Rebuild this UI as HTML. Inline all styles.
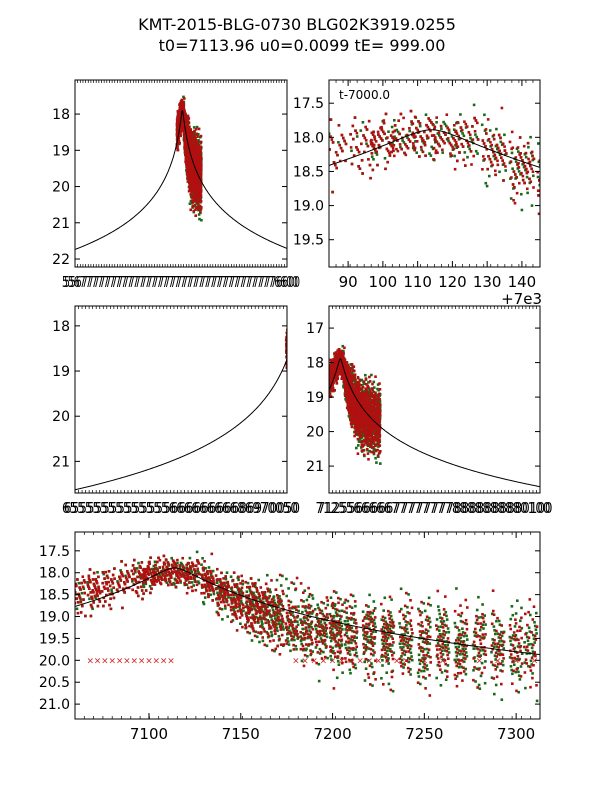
<!DOCTYPE html>
<html><head><meta charset="utf-8"><style>
body{margin:0;background:#fff;width:600px;height:800px;overflow:hidden}
svg text{font-family:"DejaVu Sans","Liberation Sans",sans-serif}
</style></head><body>
<svg id="s" width="600" height="800">
<text x="297" y="30" font-size="16" text-anchor="middle">KMT-2015-BLG-0730 BLG02K3919.0255</text>
<text x="302" y="51" font-size="16" text-anchor="middle">t0=7113.96 u0=0.0099 tE= 999.00</text>
</svg>
<script>
// cluster data (time HJD-2450000, mean mag, spread mag, count)
const clusterT   =[7062,7070,7078,7086,7094,7100,7106,7112,7118,7124,7132,7140,7148,7156,7163,7170,7178,7186,7194,7202,7210,7220,7230,7240,7250,7260,7270,7280,7290,7300,7308];
const clusterMag =[18.5,18.4,18.3,18.2,18.15,18.05,18.0,18.0,18.0,18.05,18.2,18.45,18.6,18.8,18.9,19.0,19.15,19.25,19.3,19.35,19.4,19.5,19.5,19.55,19.6,19.6,19.65,19.65,19.7,19.7,19.7];
const clusterSpread=[0.3,0.3,0.3,0.3,0.25,0.2,0.2,0.2,0.2,0.25,0.3,0.3,0.35,0.4,0.4,0.45,0.5,0.5,0.5,0.55,0.55,0.55,0.6,0.6,0.6,0.6,0.6,0.6,0.6,0.6,0.6];
const clusterCount=[50,70,60,50,60,80,60,70,60,60,80,90,100,110,100,90,70,80,70,90,70,80,80,70,70,70,70,60,60,60,50];
const badT=[7068,7072,7076,7080,7084,7088,7092,7096,7100,7104,7108,7112,7180,7185,7190,7195,7200,7205,7210,7215,7220,7225,7230,7235,7240,7250,7260,7270,7280,7290,7300,7310];
const badMag=[20.0];
const panels=[
 {name:'top-left',x:75,y:80,w:212,h:187,t0:6000,t1:8200,m0:17.06,m1:22.22,yt:[18,19,20,21,22],xl:'5567777777777777777777777777777777776600',xlx:181,minor:80},
 {name:'top-right',x:329,y:80,w:211,h:187,t0:7084.5,t1:7145.2,m0:17.16,m1:19.9,yt:[17.5,18.0,18.5,19.0,19.5],xt:[7090,7100,7110,7120,7130,7140],xtl:['90','100','110','120','130','140'],minor:30,inset:'t-7000.0',offset:'+7e3'},
 {name:'mid-left',x:75,y:306,w:212,h:187,t0:6100,t1:7062,m0:17.56,m1:21.7,yt:[18,19,20,21],xl:'6555555555555566666666686970050',xlx:181,minor:60},
 {name:'mid-right',x:329,y:306,w:211,h:187,t0:7058,t1:8100,m0:16.36,m1:21.78,yt:[17,18,19,20,21],xl:'7125566666777777778888888880100',xlx:434,minor:60},
 {name:'bottom',x:75,y:532,w:465,h:187,t0:7059.7,t1:7313,m0:17.07,m1:21.34,yt:[17.5,18.0,18.5,19.0,19.5,20.0,20.5,21.0],xt:[7100,7150,7200,7250,7300],xtl:['7100','7150','7200','7250','7300'],minor:50,bad:true}
];
function model(t){const dt=t-7113.96;return 17.75+2.73*Math.log10(1+Math.sqrt(dt*dt+25)/40);}
const S=document.getElementById('s'),NS='http://www.w3.org/2000/svg';
function el(tag,at,parent){const e=document.createElementNS(NS,tag);for(const k in at)e.setAttribute(k,at[k]);(parent||S).appendChild(e);return e;}
panels.forEach(p=>{
 const g=el('g',{});
 
 
 const X=t=>p.x+(t-p.t0)/(p.t1-p.t0)*p.w, Y=m=>p.y+(m-p.m0)/(p.m1-p.m0)*p.h;
 const cid='c'+p.name;
 const cp=el('clipPath',{id:cid},g);el('rect',{x:p.x,y:p.y,width:p.w,height:p.h},cp);
 const dg=el('g',{'clip-path':'url(#'+cid+')'},g);
 if(p.bad){badT.forEach(t=>{const px=X(t),py=Y(badMag[0]);
  const b=el('text',{x:px,y:py+3,'font-size':9,fill:'#d02020','text-anchor':'middle'},dg);b.textContent='×';
  
  });}
 ['#1a6a1a','#b01010'].forEach((col,ci)=>{
  let k=ci*7;
  clusterT.forEach((t,i)=>{
   const n=Math.round(clusterCount[i]*(ci?0.55:0.6));
   for(let j=0;j<n;j++){k++;
    const a=(k*0.6180339)%1,b=(k*0.7548777)%1,c=(k*0.5698403)%1,d=(k*0.4142135)%1;
    const tt=t+(a-0.5)*7;
    const mm=clusterMag[i]+(b+c+d-1.5)*clusterSpread[i]*1.6;
    const px=X(tt),py=Y(mm);
    if(px<p.x-2||px>p.x+p.w+2)continue;
    const r=el('rect',{x:(px-1.3).toFixed(1),y:(py-1.3).toFixed(1),width:2.6,height:2.6,fill:col},dg);
    
    
   }
  });
 });
 let d='';for(let i=0;i<=400;i++){const t=p.t0+(p.t1-p.t0)*i/400;d+=(i?'L':'M')+X(t).toFixed(1)+','+Y(model(t)).toFixed(1);}
 const ml=el('path',{d:d,fill:'none',stroke:'#000','stroke-width':1},dg);
 
 
 const fr=el('rect',{x:p.x,y:p.y,width:p.w,height:p.h,fill:'none',stroke:'#000','stroke-width':1},g);
 
 
 p.yt.forEach(v=>{const y=Y(v);
  el('line',{x1:p.x,x2:p.x+5,y1:y,y2:y,stroke:'#000'},g);el('line',{x1:p.x+p.w,x2:p.x+p.w-5,y1:y,y2:y,stroke:'#000'},g);
  const tx=el('text',{x:p.x-5,y:y+5,'font-size':14,'text-anchor':'end'},g);tx.textContent=(p.yt.some(q=>q%1)?v.toFixed(1):v);
  
  });
 for(let i=0;i<=p.minor;i++){const x=p.x+p.w*i/p.minor;
  el('line',{x1:x,x2:x,y1:p.y+p.h,y2:p.y+p.h-3,stroke:'#000','stroke-width':0.7},g);
  el('line',{x1:x,x2:x,y1:p.y,y2:p.y+3,stroke:'#000','stroke-width':0.7},g);}
 if(p.xt){p.xt.forEach((v,i)=>{const x=X(v);
  el('line',{x1:x,x2:x,y1:p.y+p.h,y2:p.y+p.h-6,stroke:'#000'},g);el('line',{x1:x,x2:x,y1:p.y,y2:p.y+6,stroke:'#000'},g);
  const tx=el('text',{x:x,y:p.y+p.h+20,'font-size':15,'text-anchor':'middle'},g);tx.textContent=p.xtl[i];
  
  });}
 else{[0,2].forEach(o=>{const tx=el('text',{x:p.xlx+o-1,y:p.y+p.h+20,'font-size':15,'text-anchor':'middle',textLength:p.w+24,lengthAdjust:'spacingAndGlyphs'},g);tx.textContent=p.xl;
  
  });}
 if(p.inset){const tx=el('text',{x:p.x+10,y:p.y+19,'font-size':12},g);tx.textContent=p.inset;
  
  }
 if(p.offset){const tx=el('text',{x:p.x+p.w+2,y:p.y+p.h+37,'font-size':15,'text-anchor':'end'},g);tx.textContent=p.offset;
  
  }
});
</script>
</body></html>
